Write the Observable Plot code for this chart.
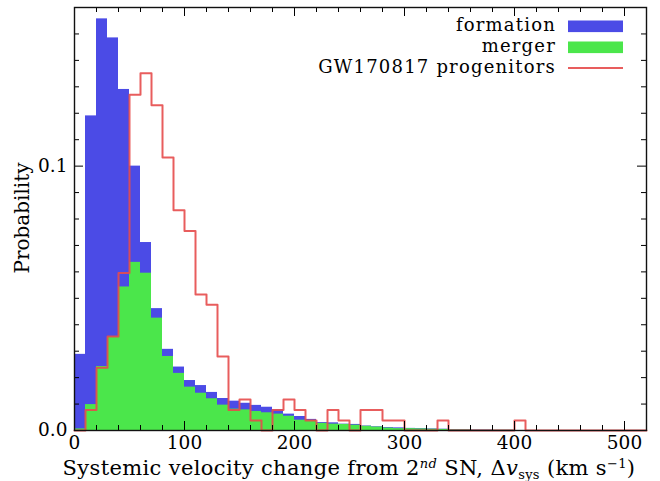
<!DOCTYPE html>
<html>
<head>
<meta charset="utf-8">
<script src="https://cdn.jsdelivr.net/npm/d3@7"></script>
<script src="https://cdn.jsdelivr.net/npm/@observablehq/plot@0.6"></script>
<style>
  body { margin: 0; background: #fff; }
  #chart svg { display: block; }
</style>
</head>
<body>
<div id="chart"></div>
<script>
// Histogram bins: 10 km/s wide, from 0 to 520 km/s
const binWidth = 10;
const binStarts = d3.range(0, 520, binWidth);

// Probability per bin for each population
const formation = [
  0.0288, 0.1190, 0.1557, 0.1485, 0.1290, 0.1000, 0.0711, 0.0461, 0.0307, 0.0240,
  0.0189, 0.0170, 0.0144, 0.0121, 0.0111, 0.0103, 0.0095, 0.0088, 0.0078, 0.0062,
  0.0053, 0.0042, 0.0030, 0.0029, 0.0024, 0.0023, 0.0017, 0.0014, 0.0011, 0.0010,
  0.0008, 0.0007, 0.0006, 0.0005, 0.0003, 0.0003, 0.0002, 0.0002, 0.0001, 0.0001,
  0, 0, 0, 0, 0, 0, 0, 0, 0, 0, 0, 0
];
const merger = [
  0.0006, 0.0098, 0.0242, 0.0354, 0.0543, 0.0636, 0.0595, 0.0425, 0.0280, 0.0216,
  0.0164, 0.0141, 0.0120, 0.0096, 0.0081, 0.0078, 0.0072, 0.0067, 0.0062, 0.0054,
  0.0039, 0.0038, 0.0027, 0.0024, 0.0023, 0.0020, 0.0016, 0.0013, 0.0009, 0.0007,
  0.0007, 0.0006, 0.0005, 0.0004, 0.0002, 0.0002, 0.0001, 0.0001, 0.0001, 0.0001,
  0, 0, 0, 0, 0, 0, 0, 0, 0, 0, 0, 0
];
const progenitors = [
  0, 0.0078, 0.0237, 0.0356, 0.0596, 0.1270, 0.1351, 0.1230, 0.1033, 0.0833,
  0.0755, 0.0514, 0.0476, 0.0280, 0.0078, 0.0117, 0.0038, 0, 0.0078, 0.0117,
  0.0078, 0.0038, 0, 0.0078, 0.0038, 0, 0.0078, 0.0078, 0.0038, 0.0038,
  0, 0, 0, 0.0038, 0, 0, 0, 0, 0, 0,
  0.0038, 0, 0, 0, 0, 0, 0, 0, 0, 0, 0, 0
];

const seriesNames = ["formation", "merger", "GW170817 progenitors"];
const seriesColors = ["#4b4be6", "#4be64b", "#e64b4b"];

// Axis ticks
const xMajorTicks = [0, 100, 200, 300, 400, 500];
const xMinorTicks = d3.range(20, 520, 20).filter(d => d % 100 !== 0);
const yMajorTicks = [0, 0.1];
const yMinorTicks = d3.range(1, 16).filter(i => i !== 10).map(i => i / 100);

const W = 660, H = 481;
const margin = {top: 7, right: 14, bottom: 51, left: 74};
const innerW = W - margin.left - margin.right;
const innerH = H - margin.top - margin.bottom;
const majorLen = 9, minorLen = 5;
const font = "DejaVu Serif";

const barRows = vals => binStarts.map((x, i) => ({x1: x, x2: x + binWidth, y1: 0, y2: vals[i]}));
const stepRows = binStarts.map((x, i) => ({x, y: progenitors[i]}))
  .concat([{x: binStarts[binStarts.length - 1] + binWidth, y: progenitors[progenitors.length - 1]}]);

const svg = Plot.plot({
  width: W,
  height: H,
  marginTop: margin.top,
  marginRight: margin.right,
  marginBottom: margin.bottom,
  marginLeft: margin.left,
  x: {domain: [0, 520]},
  y: {domain: [0, 0.16]},
  style: {fontFamily: font, fontSize: "18.5px", color: "#000", background: "#fff", overflow: "visible"},
  marks: [
    Plot.rect(barRows(formation), {x1: "x1", x2: "x2", y1: "y1", y2: "y2", fill: seriesColors[0]}),
    Plot.rect(barRows(merger), {x1: "x1", x2: "x2", y1: "y1", y2: "y2", fill: seriesColors[1]}),
    Plot.line(stepRows, {x: "x", y: "y", curve: "step-after", stroke: seriesColors[2], strokeWidth: 2, strokeOpacity: 0.9}),
    // inward ticks on all four sides
    Plot.tickX(xMajorTicks, {x: d => d, insetTop: innerH - majorLen, stroke: "#000"}),
    Plot.tickX(xMajorTicks, {x: d => d, insetBottom: innerH - majorLen, stroke: "#000"}),
    Plot.tickX(xMinorTicks, {x: d => d, insetTop: innerH - minorLen, stroke: "#000"}),
    Plot.tickX(xMinorTicks, {x: d => d, insetBottom: innerH - minorLen, stroke: "#000"}),
    Plot.tickY(yMajorTicks, {y: d => d, insetRight: innerW - majorLen, stroke: "#000"}),
    Plot.tickY(yMajorTicks, {y: d => d, insetLeft: innerW - majorLen, stroke: "#000"}),
    Plot.tickY(yMinorTicks, {y: d => d, insetRight: innerW - minorLen, stroke: "#000"}),
    Plot.tickY(yMinorTicks, {y: d => d, insetLeft: innerW - minorLen, stroke: "#000"}),
    Plot.axisX(xMajorTicks, {tickSize: 0, tickPadding: 5, tickFormat: d => String(d), label: null}),
    Plot.axisY(yMajorTicks, {tickSize: 0, tickPadding: 7, tickFormat: d3.format(".1f"), label: null}),
    Plot.frame({stroke: "#111", strokeWidth: 1.4})
  ]
});

const root = d3.select(svg);

// y-axis title
root.append("text")
  .attr("transform", "translate(29,218) rotate(-90)")
  .attr("text-anchor", "middle")
  .attr("font-family", font).attr("font-size", 20).attr("fill", "#000")
  .text("Probability");

// x-axis title with super/subscripts
const xt = root.append("text")
  .attr("x", 349).attr("y", 475)
  .attr("text-anchor", "middle")
  .attr("font-family", font).attr("font-size", 21).attr("letter-spacing", 0.35).attr("fill", "#000");
xt.append("tspan").text("Systemic velocity change from 2");
xt.append("tspan").attr("dy", -7).attr("font-size", 13).attr("font-style", "italic").text("nd");
xt.append("tspan").attr("dy", 7).text(" SN, Δ");
xt.append("tspan").attr("font-style", "italic").text("v");
xt.append("tspan").attr("dy", 4).attr("font-size", 13).text("sys");
xt.append("tspan").attr("dy", -4).text(" (km s");
xt.append("tspan").attr("dy", -7).attr("font-size", 13).text("−1");
xt.append("tspan").attr("dy", 7).text(")");

// legend, top right inside the frame
const legend = root.append("g").attr("font-family", font).attr("font-size", 18).attr("letter-spacing", 1.2);
seriesNames.forEach((name, i) => {
  const yBase = 30.5 + i * 21;
  legend.append("text").attr("x", 556).attr("y", yBase).attr("text-anchor", "end").attr("fill", "#000").text(name);
  if (i < 2) {
    legend.append("rect").attr("x", 568).attr("y", yBase - 10).attr("width", 55).attr("height", 11.6).attr("fill", seriesColors[i]);
  } else {
    legend.append("line").attr("x1", 568).attr("x2", 623).attr("y1", yBase - 4.4).attr("y2", yBase - 4.4)
      .attr("stroke", seriesColors[i]).attr("stroke-width", 2).attr("stroke-opacity", 0.9);
  }
});

document.getElementById("chart").appendChild(svg);
</script>
</body>
</html>
